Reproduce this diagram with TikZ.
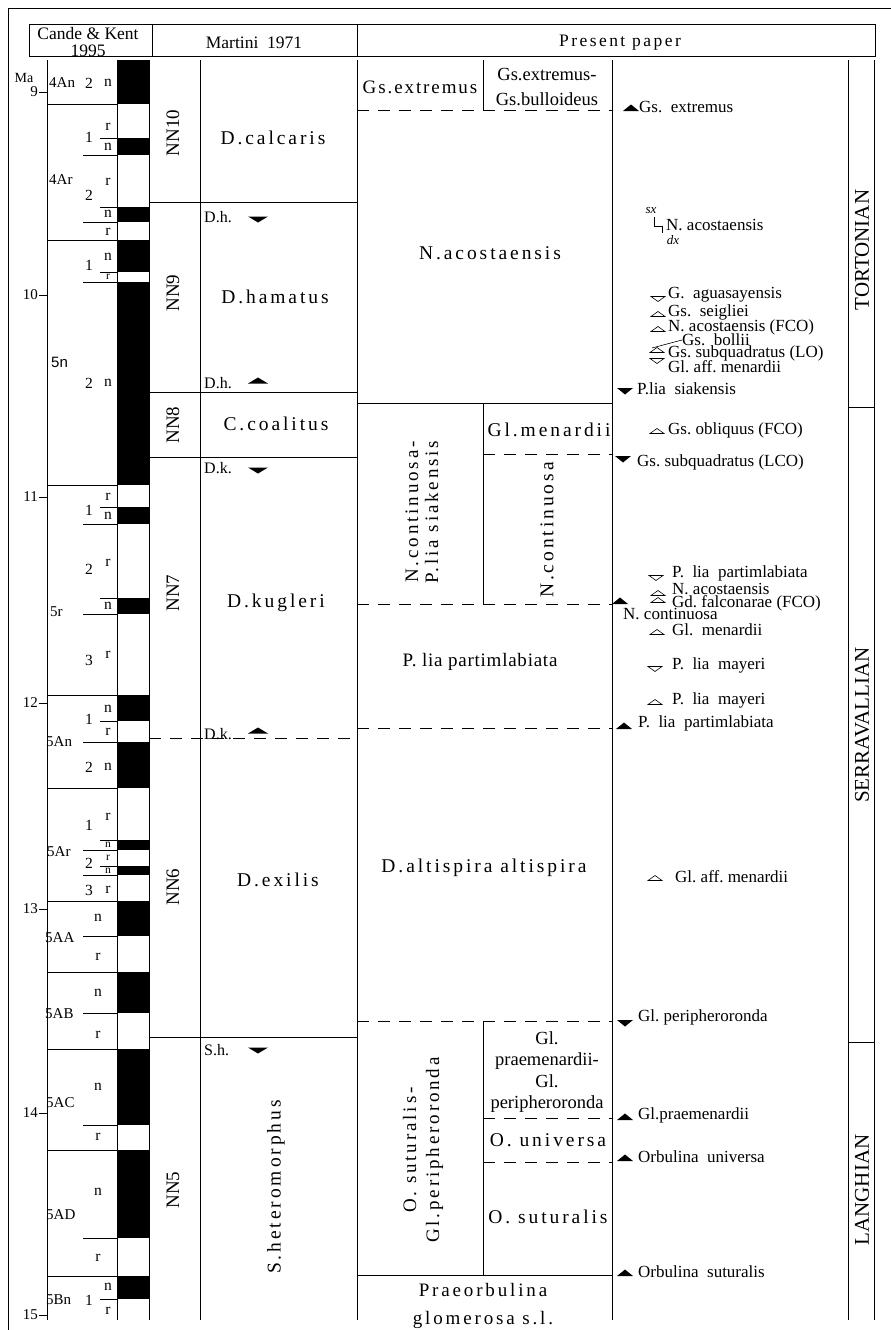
\documentclass[tikz,border=0pt]{standalone}
\usepackage{fontspec}
\setmainfont{Liberation Serif}
\newfontfamily\zf[LetterSpace=15]{Liberation Serif}
\newfontfamily\zfs[LetterSpace=4]{Liberation Serif}
\newfontfamily\hf[LetterSpace=14]{Liberation Serif}
\newfontfamily\sansf{Liberation Sans}
\begin{document}
\begin{tikzpicture}[x=1pt,y=-1pt,
  ln/.style={line width=0.7pt},
  dsh/.style={line width=0.7pt, dash pattern=on 12pt off 9pt},
  zone/.style={font=\zf\fontsize{19.5}{20}\selectfont, inner sep=0pt, align=center},
  gsz/.style={font=\fontsize{19}{21}\selectfont, inner sep=0pt, align=center},
  hdr/.style={font=\fontsize{17.5}{18}\selectfont, inner sep=0pt},
  dat/.style={anchor=west, font=\fontsize{17}{18}\selectfont, inner sep=0pt},
  ital/.style={font=\itshape\fontsize{13}{13}\selectfont, inner sep=0pt},
  chr/.style={font=\fontsize{15.5}{16}\selectfont, inner sep=0pt},
  chs/.style={font=\fontsize{11.5}{12}\selectfont, inner sep=0pt},
  chl/.style={font=\fontsize{15}{16}\selectfont, inner sep=0pt, anchor=west},
  age/.style={font=\fontsize{15}{16}\selectfont, inner sep=0pt, anchor=east},
  stage/.style={font=\fontsize{21}{22}\selectfont, inner sep=0pt, rotate=90},
  nn/.style={font=\fontsize{19}{20}\selectfont, inner sep=0pt, rotate=90},
  mdat/.style={anchor=west, font=\fontsize{16}{17}\selectfont, inner sep=0pt},
  upB/.pic={\fill (-8,3) -- (0,-3.5) -- (8,3) -- cycle;},
  dnB/.pic={\fill (-8,-3) -- (0,3.5) -- (8,-3) -- cycle;},
  upM/.pic={\fill (-10,2.5) -- (0,-3.5) -- (10,2.5) -- cycle;},
  dnM/.pic={\fill (-10,-2.5) -- (0,3.5) -- (10,-2.5) -- cycle;},
  upW/.pic={\draw[line width=0.6pt, fill=white] (-7,2.5) -- (0,-2.5) -- (7,2.5) -- cycle;},
  dnW/.pic={\draw[line width=0.6pt, fill=white] (-7,-2.5) -- (0,2.5) -- (7,-2.5) -- cycle;},
]
\useasboundingbox (0,0) rectangle (891,1330);
\fill[white] (0,0) rectangle (891,1330);
% outer frame
\draw[ln] (891,8) -- (8,8) -- (8,1330);
% header
\draw[ln] (29,24) rectangle (875,56);
\draw[ln] (152,24) -- (152,56);
\draw[ln] (357,24) -- (357,56);
\node[hdr] (hck) at (88,34) {Cande \& Kent};
\node[hdr] (hck2) at (88,51) {1995};
\node[hdr] (hm) at (254,43) {Martini\ \ 1971};
\node[hdr, font=\hf\fontsize{17.5}{18}\selectfont] (hp) at (620,43) {Present paper};

% polarity blocks
\foreach \a/\b in {60/104,138/155,207/222,240/272,282/485,507/524,598/614,695/721,742/788,840/850,866/875,901/936,972/1013,1049/1125,1150/1238,1276/1299}
  \fill (117,\a) rectangle (149,\b);

% vertical column lines
\foreach \x in {47,117,149,200,357,612,848,874}
  \draw[ln] (\x,60) -- (\x,1320);

% chron lines
\foreach \y in {104,240,485,695,788,901,972,1049,1150,1276}
  \draw[ln] (47,\y) -- (117,\y);
\foreach \y in {155,222,282,524,614,742,850,875,936,1013,1125,1238}
  \draw[ln] (83,\y) -- (117,\y);
\foreach \y in {138,207,272,507,598,721,840,866,1299}
  \draw[ln] (100,\y) -- (117,\y);

% age ticks
\node[chr, font=\fontsize{14}{15}\selectfont] (ma) at (24,78) {Ma};
\foreach \y/\t in {92/9,295/10,497/11,703/12,909/13,1113/14,1315/15}{
  \draw[ln] (39,\y) -- (47,\y);
  \node[age] (age\t) at (38,\y) {\t};
}

% chron names
\node[chl] (c4An) at (49,83) {4An};
\node[chl] (c4Ar) at (49,180) {4Ar};
\node[chl, font=\sansf\fontsize{15}{16}\selectfont] (c5n) at (51,362) {5n};
\node[chl] (c5r) at (50,612) {5r};
\node[chl] (c5An) at (46,742) {5An};
\node[chl] (c5Ar) at (47,852) {5Ar};
\node[chl] (c5AA) at (45,938) {5AA};
\node[chl] (c5AB) at (45,1014) {5AB};
\node[chl] (c5AC) at (46,1103) {5AC};
\node[chl] (c5AD) at (46,1215) {5AD};
\node[chl] (c5Bn) at (46,1300) {5Bn};

% subchron numbers and polarity letters
\foreach \x/\y/\t [count=\i] in {
  89/83/2, 108/83/n,
  89/137/1, 108/127/r, 108/147/n,
  89/195/2, 108/182/r, 108/214/n, 108/232/r,
  89/265/1, 108/257/n,
  89/383/2, 108/383/n,
  89/510/1, 108/497/r, 108/516/n,
  89/569/2, 108/563/r, 108/606/n,
  89/660/3, 108/655/r,
  89/719/1, 108/709/n, 108/732/r,
  89/767/2, 108/767/n,
  89/825/1, 108/817/r,
  89/863/2,
  89/890/3, 108/890/r,
  98/918/n, 98/957/r,
  98/993/n, 98/1035/r,
  98/1087/n, 98/1137/r,
  98/1192/n, 98/1258/r,
  89/1300/1, 108/1287/n, 108/1311/r}
  \node[chr] (sc\i) at (\x,\y) {\t};
\foreach \x/\y/\t [count=\i] in {108/277/r, 108/845/n, 108/858/r, 108/871/n}
  \node[chs] (ss\i) at (\x,\y) {\t};

% Martini zones
\draw[ln] (149,202) -- (357,202);
\draw[ln] (149,392) -- (357,392);
\draw[ln] (149,457) -- (357,457);
\draw[dsh] (149,738) -- (357,738);
\draw[ln] (149,1037) -- (357,1037);
\node[nn] (nn10) at (173,133) {NN10};
\node[nn] (nn9) at (173,293) {NN9};
\node[nn] (nn8) at (173,425) {NN8};
\node[nn] (nn7) at (173,593) {NN7};
\node[nn] (nn6) at (173,887) {NN6};
\node[nn] (nn5) at (173,1190) {NN5};
\node[zone] (zcal) at (273,138) {D.calcaris};
\node[zone] (zham) at (275,297) {D.hamatus};
\node[zone] (zcoa) at (276,424) {C.coalitus};
\node[zone] (zkug) at (276,603) {D.kugleri};
\node[zone] (zexi) at (278,880) {D.exilis};
\node[zone, rotate=90] (zhet) at (276,1187) {S.heteromorphus};
% Martini datums
\node[mdat] (mdh1) at (204,217) {D.h.};
\pic at (258,219) {dnM};
\node[mdat] (mdh2) at (204,383) {D.h.};
\pic at (258,381) {upM};
\node[mdat] (mdk1) at (204,468) {D.k.};
\pic at (258,470) {dnM};
\node[mdat] (mdk2) at (204,734) {D.k.};
\pic at (258,731) {upM};
\node[mdat] (msh) at (204,1050) {S.h.};
\pic at (258,1050) {dnM};

% Present paper zones
\draw[ln] (483,60) -- (483,110);
\draw[dsh] (357,110) -- (612,110);
\draw[ln] (357,403) -- (612,403);
\draw[ln] (483,403) -- (483,604);
\draw[dsh] (483,454) -- (612,454);
\draw[dsh] (357,604) -- (612,604);
\draw[dsh] (357,728) -- (612,728);
\draw[dsh] (357,1021) -- (612,1021);
\draw[ln] (483,1021) -- (483,1275);
\draw[dsh] (483,1118) -- (612,1118);
\draw[dsh] (483,1162) -- (612,1162);
\draw[ln] (357,1275) -- (612,1275);

\node[zone, font=\fontsize{19}{20}\selectfont\addfontfeatures{LetterSpace=10}] (pex) at (420,87) {Gs.extremus};
\node[gsz, font=\fontsize{18.5}{25}\selectfont] (pexb) at (547,87) {Gs.extremus-\\Gs.bulloideus};
\node[zone] (paco) at (490,253) {N.acostaensis};
\node[zone] (pmen) at (549,430) {Gl.menardii};
\node[zone, rotate=90, font=\zf\fontsize{19}{20}\selectfont] (pcs) at (422,512) {N.continuosa-\\P.lia siakensis};
\node[zone, rotate=90] (pcon) at (547,530) {N.continuosa};
\node[zone, font=\zfs\fontsize{19}{20}\selectfont] (ppar) at (480,662) {P. lia partimlabiata};
\node[zone] (palt) at (484,868) {D.altispira altispira};
\node[zone, rotate=90, font=\zf\fontsize{19}{23}\selectfont] (psg) at (423,1150) {O. suturalis-\\Gl.peripheroronda};
\node[gsz, font=\fontsize{18.5}{21.5}\selectfont] (ppg) at (547,1072) {Gl.\\praemenardii-\\Gl.\\peripheroronda};
\node[zone] (puni) at (548,1140) {O. universa};
\node[zone] (psut) at (548,1217) {O. suturalis};
\node[zone, font=\zf\fontsize{19}{28}\selectfont] (pglo) at (483,1306) {Praeorbulina\\glomerosa s.l.};

% stages
\draw[ln] (848,407) -- (874,407);
\draw[ln] (848,1042) -- (874,1042);
\node[stage] (stor) at (862,250) {TORTONIAN};
\node[stage] (sser) at (862,725) {SERRAVALLIAN};
\node[stage] (slan) at (862,1190) {LANGHIAN};

% datums
\pic at (631,108) {upB};
\node[dat] (d1) at (639,107) {Gs.\ \ extremus};
\node[ital] (sx) at (651,210) {sx};
\draw[line width=0.6pt] (654,217) -- (654,226) -- (662,226) -- (662,233);
\node[dat] (d2) at (666,225) {N.\ acostaensis};
\node[ital] (dx) at (673,240) {dx};
\pic at (658,299) {dnW};
\node[dat] (d3) at (668,295) {G.\ \ aguasayensis};
\pic at (658,314) {upW};
\node[dat] (d4) at (668,312) {Gs.\ \ seigliei};
\pic at (658,329) {upW};
\node[dat] (d5) at (668,327) {N.\ acostaensis (FCO)};
\node[dat] (d6) at (682,340) {Gs.\ \ bollii};
\coordinate (bl) at (652,348);
\draw[line width=0.6pt] (bl) -- (d6.west);
\pic at (657,350) {upW};
\node[dat] (d7) at (668,353) {Gs.\ subquadratus (LO)};
\pic at (657,361) {dnW};
\node[dat] (d8) at (668,367) {Gl.\ aff.\ menardii};
\pic at (625,391) {dnB};
\node[dat] (d9) at (637,389) {P.lia\ \ siakensis};
\pic at (657,431) {upW};
\node[dat] (d10) at (668,430) {Gs.\ obliquus (FCO)};
\pic at (623,459) {dnB};
\node[dat] (d11) at (637,462) {Gs.\ subquadratus (LCO)};
\pic at (656,578) {dnW};
\node[dat] (d12) at (672,573) {P.\ \ lia\ \ partimlabiata};
\pic at (658,593) {upW};
\node[dat] (d13) at (672,589) {N.\ acostaensis};
\pic at (658,600) {upW};
\node[dat] (d14) at (672,603) {Gd.\ falconarae (FCO)};
\pic at (620,601) {upB};
\node[dat] (d15) at (623,614) {N.\ continuosa};
\pic at (657,632) {upW};
\node[dat] (d16) at (672,630) {Gl.\ \ menardii};
\pic at (655,669) {dnW};
\node[dat] (d17) at (672,665) {P.\ \ lia\ \ mayeri};
\pic at (655,702) {upW};
\node[dat] (d18) at (672,700) {P.\ \ lia\ \ mayeri};
\pic at (624,726) {upB};
\node[dat] (d19) at (638,723) {P.\ \ lia\ \ partimlabiata};
\pic at (655,878) {upW};
\node[dat] (d20) at (675,877) {Gl.\ aff.\ menardii};
\pic at (625,1023) {dnB};
\node[dat] (d21) at (638,1017) {Gl.\ peripheroronda};
\pic at (625,1117) {upB};
\node[dat] (d22) at (638,1115) {Gl.praemenardii};
\pic at (625,1158) {upB};
\node[dat] (d23) at (638,1157) {Orbulina\ \ universa};
\pic at (625,1273) {upB};
\node[dat] (d24) at (638,1272) {Orbulina\ \ suturalis};
\end{tikzpicture}
\end{document}
